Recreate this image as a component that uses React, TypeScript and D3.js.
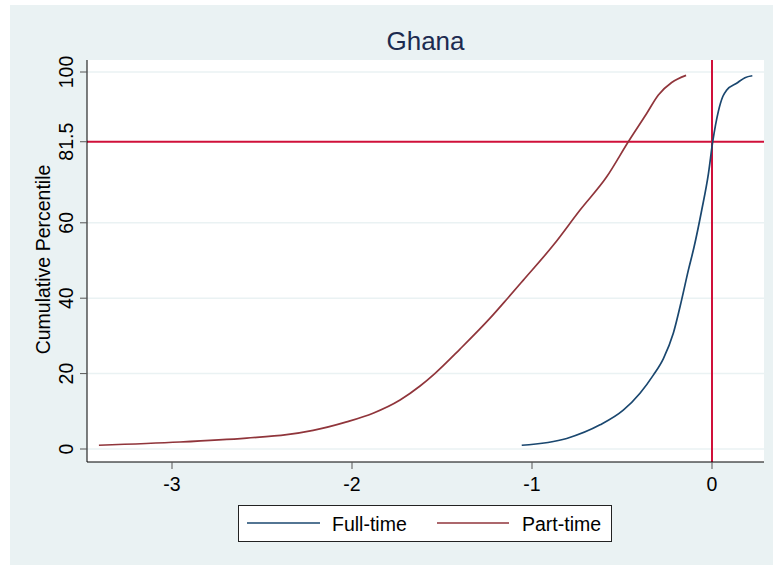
import React, { useEffect, useRef } from 'react';
import * as d3 from 'd3';

// z-score (x) vs cumulative percentile (y)
const fullTimeX = [-1.057, -0.807, -0.622, -0.493, -0.4, -0.326, -0.27, -0.215, -0.169, -0.131, -0.1, -0.057, -0.02, 0.004, 0.035, 0.06, 0.082, 0.137, 0.183, 0.224];
const fullTimeY = [1.0, 2.8, 6.4, 10.3, 14.8, 19.6, 24.0, 30.7, 39.5, 47.5, 53.5, 63.4, 73.0, 81.5, 89.5, 93.5, 95.2, 97.0, 98.5, 99.0];

const partTimeX = [-3.406, -2.956, -2.585, -2.363, -2.216, -2.03, -1.883, -1.733, -1.622, -1.54, -1.4, -1.233, -1.135, -1.048, -0.881, -0.733, -0.585, -0.465, -0.363, -0.298, -0.224, -0.144];
const partTimeY = [1.0, 1.86, 2.9, 3.8, 4.95, 7.2, 9.5, 13.0, 16.7, 20.0, 26.5, 34.7, 40.0, 44.8, 54.1, 63.4, 72.2, 81.5, 89.0, 93.9, 97.2, 99.1];

const xTicks = [-3, -2, -1, 0];
const yTicks = [0, 20, 40, 60, 81.5, 100];
const yGrid = [0, 20, 40, 60, 100];
const refX = 0;
const refY = 81.5;

const seriesNames = ['Full-time', 'Part-time'];
const seriesColors = ['#1a476f', '#90353b'];

const W = 773;
const H = 565;
const FONT = '"Liberation Sans", Arial, sans-serif';
const RED = '#d0103a';

const App: React.FC = () => {
  const ref = useRef<SVGSVGElement | null>(null);

  useEffect(() => {
    if (!ref.current) return;
    const svg = d3.select(ref.current);
    svg.selectAll('*').remove();

    const plot = { left: 87, right: 764, top: 60, bottom: 462 };

    const x = d3.scaleLinear().domain([-3, 0]).range([172, 712]);
    const y = d3.scaleLinear().domain([0, 100]).range([449, 72]);

    // background
    svg.append('rect').attr('x', 10).attr('y', 5).attr('width', W - 10).attr('height', H - 5).attr('fill', '#eaf2f3');
    svg.append('rect')
      .attr('x', plot.left).attr('y', plot.top)
      .attr('width', plot.right - plot.left).attr('height', plot.bottom - plot.top)
      .attr('fill', '#ffffff');

    // grid
    svg.append('g').selectAll('line').data(yGrid).enter().append('line')
      .attr('x1', plot.left).attr('x2', plot.right)
      .attr('y1', (d) => y(d)).attr('y2', (d) => y(d))
      .attr('stroke', '#eaf2f3').attr('stroke-width', 1.5);

    // reference lines
    svg.append('line')
      .attr('x1', plot.left).attr('x2', plot.right)
      .attr('y1', y(refY)).attr('y2', y(refY))
      .attr('stroke', RED).attr('stroke-width', 2);
    svg.append('line')
      .attr('x1', x(refX)).attr('x2', x(refX))
      .attr('y1', plot.top).attr('y2', plot.bottom)
      .attr('stroke', RED).attr('stroke-width', 2);

    // curves
    const line = d3.line<[number, number]>()
      .x((d) => x(d[0]))
      .y((d) => y(d[1]))
      .curve(d3.curveMonotoneX);

    const series: [number, number][][] = [
      fullTimeX.map((v, i) => [v, fullTimeY[i]] as [number, number]),
      partTimeX.map((v, i) => [v, partTimeY[i]] as [number, number]),
    ];
    series.forEach((s, i) => {
      svg.append('path')
        .datum(s)
        .attr('fill', 'none')
        .attr('stroke', seriesColors[i])
        .attr('stroke-width', 1.7)
        .attr('d', line);
    });

    // axes
    svg.append('line').attr('x1', plot.left).attr('x2', plot.left)
      .attr('y1', plot.top).attr('y2', plot.bottom).attr('stroke', '#000').attr('stroke-width', 1);
    svg.append('line').attr('x1', plot.left).attr('x2', plot.right)
      .attr('y1', plot.bottom).attr('y2', plot.bottom).attr('stroke', '#000').attr('stroke-width', 1);

    const yt = svg.append('g');
    yt.selectAll('line').data(yTicks).enter().append('line')
      .attr('x1', plot.left - 7).attr('x2', plot.left)
      .attr('y1', (d) => y(d)).attr('y2', (d) => y(d))
      .attr('stroke', '#555').attr('stroke-width', 1);
    yt.selectAll('text').data(yTicks).enter().append('text')
      .attr('transform', (d) => `translate(73,${y(d)}) rotate(-90)`)
      .attr('text-anchor', 'middle')
      .attr('font-family', FONT).attr('font-size', 19.5).attr('fill', '#000')
      .text((d) => String(d));

    const xt = svg.append('g');
    xt.selectAll('line').data(xTicks).enter().append('line')
      .attr('x1', (d) => x(d)).attr('x2', (d) => x(d))
      .attr('y1', plot.bottom).attr('y2', plot.bottom + 7)
      .attr('stroke', '#555').attr('stroke-width', 1);
    xt.selectAll('text').data(xTicks).enter().append('text')
      .attr('x', (d) => x(d)).attr('y', 491)
      .attr('text-anchor', 'middle')
      .attr('font-family', FONT).attr('font-size', 19.5).attr('fill', '#000')
      .text((d) => String(d));

    // axis title
    svg.append('text')
      .attr('transform', `translate(49.5,259.5) rotate(-90)`)
      .attr('text-anchor', 'middle')
      .attr('font-family', FONT).attr('font-size', 19.5).attr('fill', '#000')
      .text('Cumulative Percentile');

    // title
    svg.append('text')
      .attr('x', (plot.left + plot.right) / 2).attr('y', 50)
      .attr('text-anchor', 'middle')
      .attr('font-family', FONT).attr('font-size', 26).attr('fill', '#1c2b50')
      .text('Ghana');

    // legend
    const lg = svg.append('g');
    lg.append('rect').attr('x', 238.5).attr('y', 505.5).attr('width', 373).attr('height', 36)
      .attr('fill', '#fff').attr('stroke', '#222').attr('stroke-width', 1);
    const items = [
      { x0: 247, x1: 320, tx: 332 },
      { x0: 437, x1: 509, tx: 522 },
    ];
    items.forEach((it, i) => {
      lg.append('line').attr('x1', it.x0).attr('x2', it.x1).attr('y1', 523).attr('y2', 523)
        .attr('stroke', seriesColors[i]).attr('stroke-width', 1.7);
      lg.append('text').attr('x', it.tx).attr('y', 531)
        .attr('font-family', FONT).attr('font-size', 19.5).attr('fill', '#000')
        .text(seriesNames[i]);
    });
  }, []);

  return (
    <svg ref={ref} width={W} height={H} style={{ position: 'absolute', left: 0, top: 0 }} />
  );
};

export default App;
